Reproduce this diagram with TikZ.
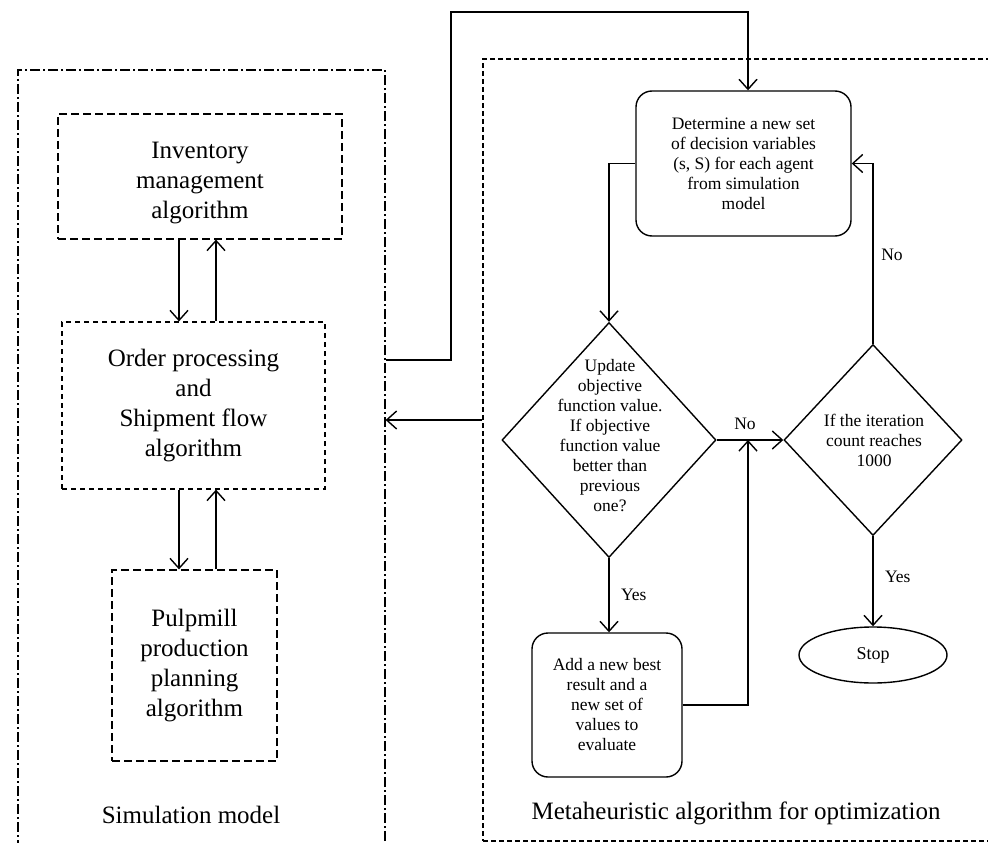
\documentclass[tikz,border=0pt]{standalone}
\usepackage{fontspec}
\setmainfont{Liberation Serif}
\usetikzlibrary{shapes.geometric,arrows.meta}
\begin{document}
\begin{tikzpicture}[x=1pt,y=-1pt,
  big/.style={font=\fontsize{25}{30}\selectfont, align=center},
  small/.style={font=\fontsize{17.5}{20}\selectfont, align=center},
  simbox/.style={draw, line width=1.2pt, dash pattern=on 10pt off 3pt on 2pt off 3pt, minimum width=367pt, minimum height=800pt, inner sep=0pt},
  metabox/.style={draw, line width=1.2pt, dash pattern=on 5pt off 3pt, minimum width=527pt, minimum height=782pt, inner sep=0pt},
  dbox/.style={draw, line width=1.2pt, dash pattern=on 8pt off 4pt, inner sep=0pt},
  fbox/.style={draw, line width=1.2pt, dash pattern=on 5pt off 4pt, inner sep=0pt},
  rbox/.style={draw, line width=1.4pt, rounded corners=16pt, inner sep=0pt, small},
  dia/.style={draw, line width=1.4pt, shape=diamond, inner sep=0pt},
  arr/.style={line width=1.4pt, -{Straight Barb[length=10pt,width=18pt,line width=1.4pt]}},
  lab/.style={font=\fontsize{17.5}{20}\selectfont}
]
\useasboundingbox (0,0) rectangle (988,843);
\fill[white] (0,0) rectangle (988,843);

% containers
\node[simbox] (sim) at (201.5,470) {};
\node[metabox] (meta) at (746.5,450) {};

% simulation boxes
\node[dbox, minimum width=284pt, minimum height=125pt] (inv) at (200,176.5) {};
\node[big] (invt) at (200,183) {Inventory\\management\\algorithm};
\node[fbox, minimum width=263pt, minimum height=167pt, big] (ord) at (193.5,405.5) {Order processing\\and\\Shipment flow\\algorithm};
\node[dbox, minimum width=165pt, minimum height=191pt, big] (pulp) at (194.5,665.5) {Pulpmill\\production\\planning\\algorithm};
\node[big] (simlab) at (191,815) {Simulation model};

\draw[arr] (179,0 |- inv.south) -- (179,0 |- ord.north);
\draw[arr] (216,0 |- ord.north) -- (216,0 |- inv.south);
\draw[arr] (179,0 |- ord.south) -- (179,0 |- pulp.north);
\draw[arr] (216,0 |- pulp.north) -- (216,0 |- ord.south);

% flowchart
\node[rbox, minimum width=215pt, minimum height=145pt] (det) at (743.5,163.5) {Determine a new set\\of decision variables\\(s, S) for each agent\\from simulation\\model};
\node[dia, minimum width=214pt, minimum height=235pt] (d1) at (609,440) {};
\node[small] (d1t) at (610,436) {Update\\objective\\function value.\\If objective\\function value\\better than\\previous\\one?};
\node[dia, minimum width=178pt, minimum height=191pt] (d2) at (873,440) {};
\node[small] (d2t) at (874,440) {If the iteration\\count reaches\\1000};
\node[rbox, minimum width=150pt, minimum height=144pt] (add) at (607,705) {Add a new best\\result and a\\new set of\\values to\\evaluate};
\node[draw, line width=1.4pt, shape=ellipse, minimum width=148pt, minimum height=56pt, inner sep=0pt, font=\fontsize{18}{20}\selectfont] (stop) at (873,655) {Stop};
\node[big] (metalab) at (736,813) {Metaheuristic algorithm for optimization};

\coordinate (join) at (748,440);

% connectors
\draw[arr] (sim.east |- 0,360) -- (451,360) -- (451,12) -- (748,12) -- (748,12 |- det.north);
\draw[arr] (meta.west |- 0,420) -- (sim.east |- 0,420);
\draw[arr] (det.west) -| (d1.north);
\draw[arr] (d1.south) -- node[lab, right=8pt] {Yes} (d1.south |- add.north);
\draw[arr] (d1.east) -- (d2.west);
\node[lab] (nolab1) at (745,424) {No};
\draw[arr] (add.east) -| (join);
\draw[arr] (d2.south) -- node[lab, right=8pt, pos=0.45] {Yes} (stop.north);
\draw[arr] (d2.north) |- (det.east);
\node[lab] (nolab2) at (892,255) {No};
\end{tikzpicture}
\end{document}
